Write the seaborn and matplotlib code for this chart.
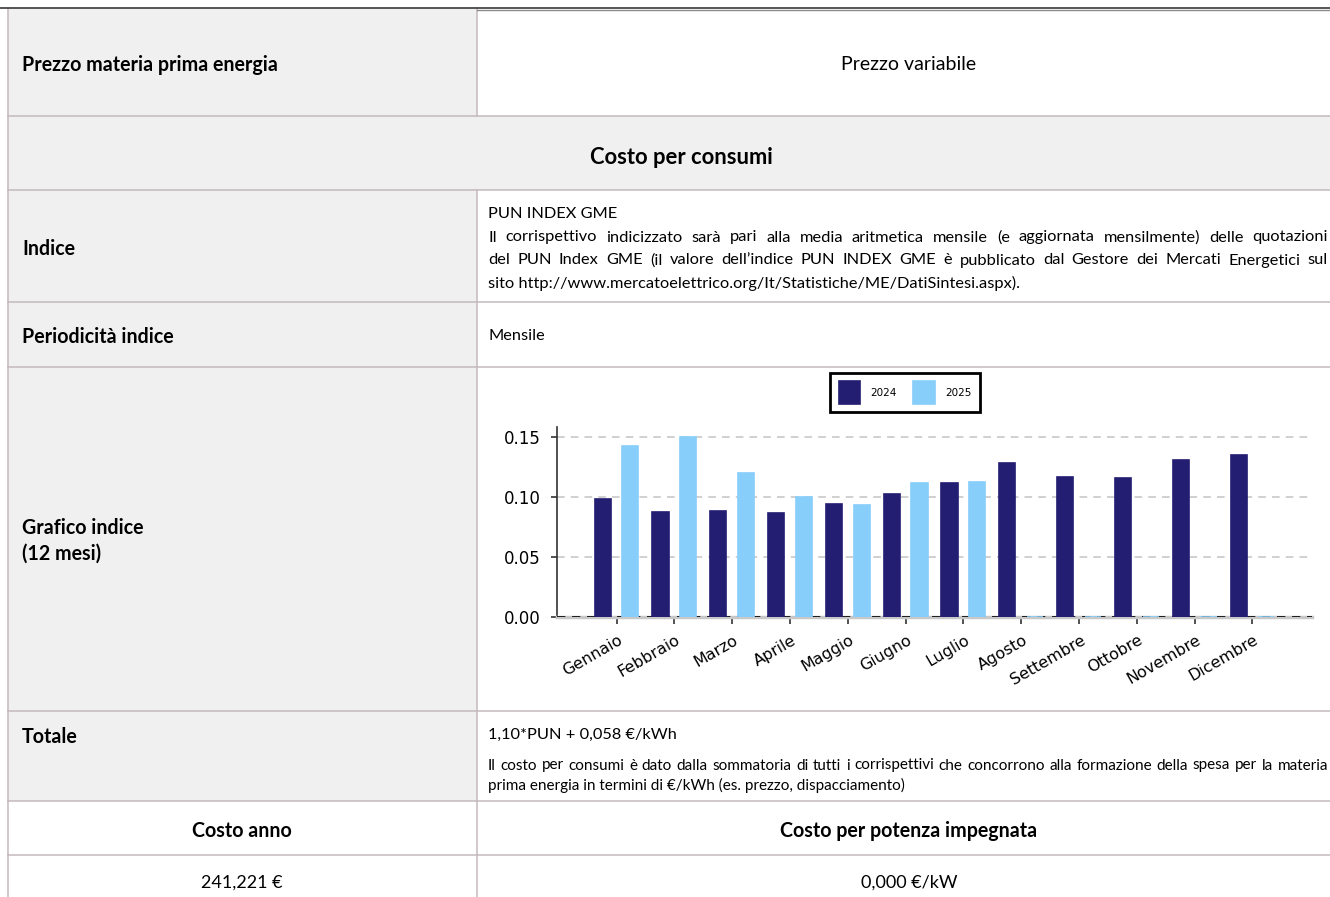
import matplotlib
matplotlib.use("Agg")
import matplotlib.pyplot as plt
import matplotlib.transforms as mtrans
from matplotlib.patches import Rectangle
import pandas as pd
import seaborn as sb

# DATA
#----------------------------------------------------
mesi = ["Gennaio", "Febbraio", "Marzo", "Aprile", "Maggio", "Giugno",
        "Luglio", "Agosto", "Settembre", "Ottobre", "Novembre", "Dicembre"]
anni = ["2024", "2025"]
pun_2024 = [0.0983, 0.0875, 0.0883, 0.0867, 0.0942, 0.1025,
            0.1117, 0.1283, 0.1167, 0.1160, 0.1308, 0.1350]
pun_2025 = [0.1425, 0.1500, 0.1200, 0.1000, 0.0935, 0.1117,
            0.1125, 0.0, 0.0, 0.0, 0.0, 0.0]
y_ticks = [0.00, 0.05, 0.10, 0.15]

NAVY = "#241e72"
SKY = "#87cefa"
GREY_BG = "#f0f0f0"
BORDER = "#c3b9bd"
FONT = "Lato"

W, H = 1330, 897
fig = plt.figure(figsize=(W / 100, H / 100), dpi=100)

# TABLE (pixel coordinates)
#----------------------------------------------------
bg = fig.add_axes([0, 0, 1, 1])
bg.set_xlim(0, W)
bg.set_ylim(H, 0)
bg.axis("off")

X0, XM, X1 = 8, 477, W
bg.add_patch(Rectangle((X0, 8.5), XM - X0, 801 - 8.5, color=GREY_BG, lw=0))
bg.add_patch(Rectangle((X0, 116), X1 - X0, 190 - 116, color=GREY_BG, lw=0))

for yy in [116, 190, 302, 367, 711, 801, 855]:
    bg.plot([X0, X1], [yy, yy], color=BORDER, lw=1.1)
bg.plot([X0, X0], [8.5, H], color=BORDER, lw=1.1)
bg.plot([XM, XM], [8.5, 116], color=BORDER, lw=1.1)
bg.plot([XM, XM], [190, H], color=BORDER, lw=1.1)
bg.plot([XM, X1], [10.5, 10.5], color="#8c8c8c", lw=1.0)
bg.plot([0, X1], [8.5, 8.5], color="#3a3a3a", lw=1.2)


def label(x, y, s, bold=False, size=12, ha="left"):
    bg.text(x, y, s, ha=ha, va="center_baseline", fontsize=size,
            family=[FONT, "DejaVu Sans"], fontweight="bold" if bold else "normal",
            color="black")


def justify(x0, x1, y, s, size):
    r = fig.canvas.get_renderer()
    parole = s.split(" ")
    arts = [bg.text(0, y, p, ha="left", va="center_baseline", fontsize=size,
                    family=[FONT, "DejaVu Sans"], color="black") for p in parole]
    larg = [a.get_window_extent(r).width for a in arts]
    gap = (x1 - x0 - sum(larg)) / (len(parole) - 1)
    x = x0
    for a, w in zip(arts, larg):
        a.set_x(x)
        x += w + gap


BOLD = 14.1
BODY = 11.8
label(22, 63, "Prezzo materia prima energia", bold=True, size=BOLD)
label(909, 63, "Prezzo variabile", size=14, ha="center")
label(681, 155, "Costo per consumi", bold=True, size=15.8, ha="center")
label(22, 247, "Indice", bold=True, size=BOLD)
label(488, 213, "PUN INDEX GME", size=BODY)
justify(488, 1328, 236, "Il corrispettivo indicizzato sarà pari alla media aritmetica mensile "
        "(e aggiornata mensilmente) delle quotazioni", BODY)
justify(488, 1328, 259, "del PUN Index GME (il valore dell’indice PUN INDEX GME è pubblicato "
        "dal Gestore dei Mercati Energetici sul", BODY)
label(488, 282, "sito http://www.mercatoelettrico.org/It/Statistiche/ME/DatiSintesi.aspx).", size=BODY)
label(22, 335, "Periodicità indice", bold=True, size=BOLD)
label(488, 335, "Mensile", size=BODY)
label(22, 526, "Grafico indice", bold=True, size=BOLD)
label(22, 552, "(12 mesi)", bold=True, size=BOLD)
label(22, 735, "Totale", bold=True, size=BOLD)
label(488, 733, "1,10*PUN + 0,058 €/kWh", size=BODY)
justify(488, 1328, 764, "Il costo per consumi è dato dalla sommatoria di tutti i corrispettivi "
        "che concorrono alla formazione della spesa per la materia", 11)
label(488, 784, "prima energia in termini di €/kWh (es. prezzo, dispacciamento)", size=11)
label(242, 829, "Costo anno", bold=True, size=BOLD, ha="center")
label(909, 829, "Costo per potenza impegnata", bold=True, size=BOLD, ha="center")
label(242, 881, "241,221 €", size=13, ha="center")
label(909, 881, "0,000 €/kW", size=13, ha="center")

# CHART
#----------------------------------------------------
df = pd.DataFrame({
    "mese": mesi * 2,
    "anno": [anni[0]] * len(mesi) + [anni[1]] * len(mesi),
    "valore": pun_2024 + pun_2025,
})

ax = fig.add_axes([557 / W, (H - 617) / H, (1312 - 557) / W, (617 - 427) / H])
ax.set_facecolor("none")
sb.barplot(data=df, x="mese", y="valore", hue="anno", hue_order=anni,
           palette=[NAVY, SKY], saturation=1, width=0.96, gap=0.42, ax=ax, zorder=3)
for p in ax.patches:
    p.set_edgecolor(p.get_facecolor())
    p.set_linewidth(1.2)

ax.set_xlim(-1.03, 12.03)
ax.set_ylim(0, 0.1583)
ax.set_yticks(y_ticks)
ax.set_yticklabels([f"{v:.2f}" for v in y_ticks])
ax.set_xlabel("")
ax.set_ylabel("")
ax.yaxis.grid(True, ls=(0, (5, 4)), color="#c4c4c4", lw=1.1)
ax.set_axisbelow(True)
ax.axhline(0, color="black", ls=(0, (5, 4)), lw=1.2, zorder=2.7)

for s in ["top", "right"]:
    ax.spines[s].set_visible(False)
ax.spines["left"].set_color("#333333")
ax.spines["left"].set_linewidth(1.2)
ax.spines["bottom"].set_color("#c8c8c8")
ax.spines["bottom"].set_linewidth(2.5)

ax.tick_params(axis="y", length=4, width=1.2, color="#333333", labelsize=12, pad=7.5)
ax.tick_params(axis="x", length=5, width=1.2, color="#333333", labelsize=11.4, pad=13)
sposta = mtrans.ScaledTranslation(5 / 100, 3 / 100, fig.dpi_scale_trans)
for t in ax.get_xticklabels():
    t.set_rotation(30)
    t.set_ha("right")
    t.set_va("center")
    t.set_rotation_mode("anchor")
    t.set_transform(t.get_transform() + sposta)

h, l = ax.get_legend_handles_labels()
leg = ax.legend(h, l, loc="center", bbox_to_anchor=(905 / W, 1 - 392.5 / H),
                bbox_transform=fig.transFigure, ncol=2, frameon=True, fancybox=False,
                framealpha=1, edgecolor="black", fontsize=7.5, handlelength=2.1,
                handleheight=2.9, handletextpad=0.95, columnspacing=1.6, borderpad=0.85)
leg.get_frame().set_linewidth(2)

plt.savefig("out.png", dpi=100)
